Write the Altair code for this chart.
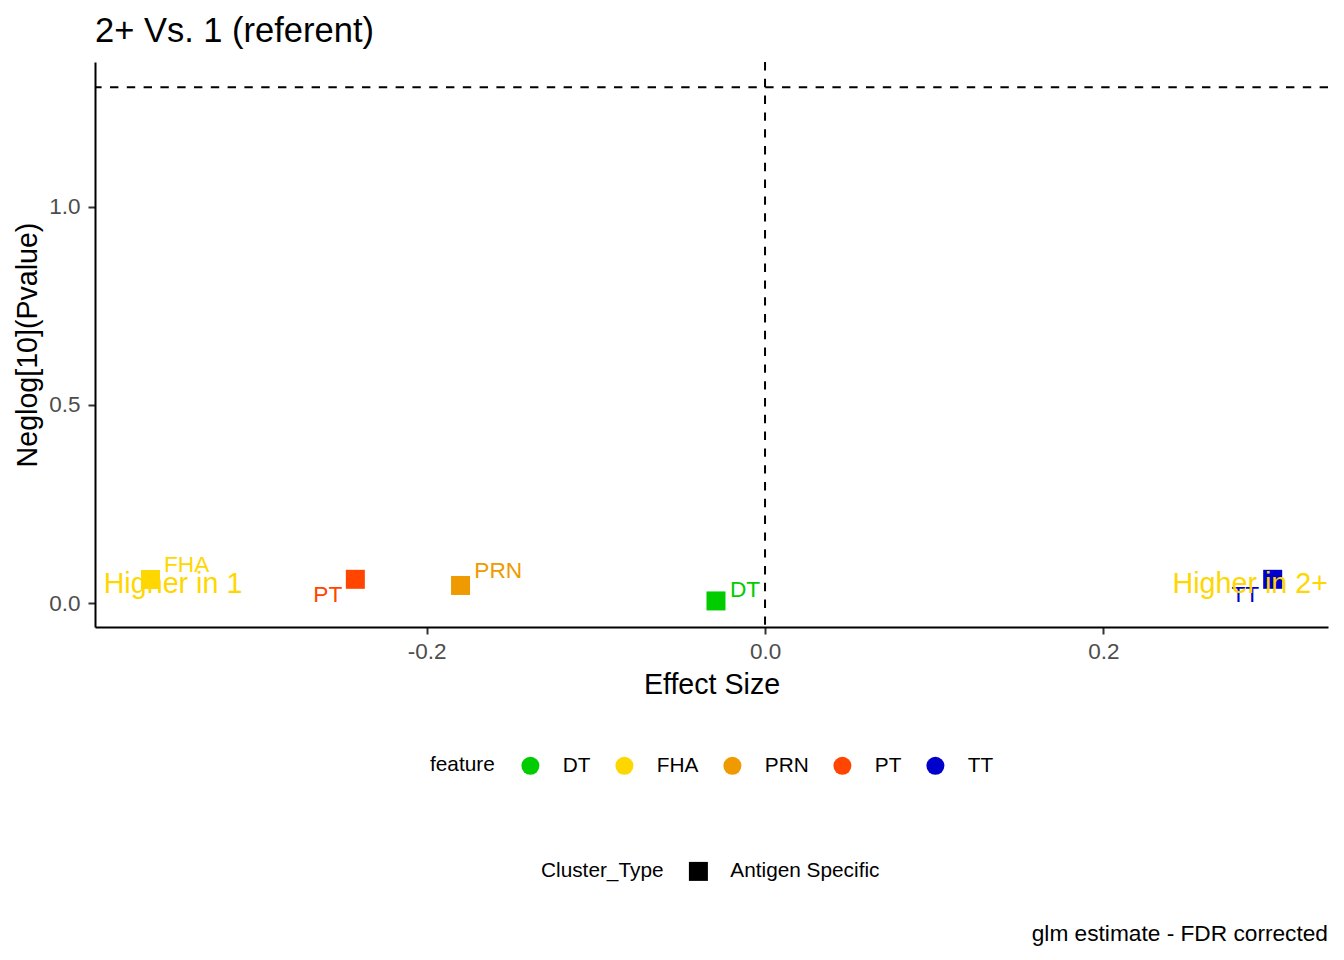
import altair as alt
import pandas as pd

# ---- data ----
features = ["DT", "FHA", "PRN", "PT", "TT"]
effect = [-0.0290, -0.3633, -0.1800, -0.2422, 0.3001]
neglogp = [0.006, 0.060, 0.045, 0.0605, 0.0605]
cluster_type = ["Antigen Specific"] * 5
# repelled label anchor positions (data units)
label_x = [-0.0118, -0.3419, -0.1577, -0.2585, 0.2839]
label_y = [0.0166, 0.0797, 0.0645, 0.004, 0.004]

feature_order = ["DT", "FHA", "PRN", "PT", "TT"]
feature_colors = ["#00CC00", "#FFD700", "#EE9A00", "#FF4500", "#0000CD"]

annot_text = ["Higher in 1", "Higher in 2+"]
annot_x = [-0.3910, 0.3328]
annot_y = [0.0252, 0.0252]

sig_line = [1.30103]
zero_line = [0.0]

x_domain = [-0.3961, 0.3328]
y_domain = [-0.0597, 1.3645]
x_ticks = [-0.2, 0.0, 0.2]
y_ticks = [0.0, 0.5, 1.0]

title_text = "2+ Vs. 1 (referent)"
caption_text = "glm estimate - FDR corrected"

FONT = "Liberation Sans"
W, H = 1233, 565

pts = pd.DataFrame({"feature": features, "effect": effect, "neglogp": neglogp,
                    "Cluster_Type": cluster_type, "lx": label_x, "ly": label_y})
ann_left = pd.DataFrame({"t": [annot_text[0]], "x": [annot_x[0]], "y": [annot_y[0]]})
ann_right = pd.DataFrame({"t": [annot_text[1]], "x": [annot_x[1]], "y": [annot_y[1]]})
hl = pd.DataFrame({"y": sig_line})
vl = pd.DataFrame({"x": zero_line})
cap = pd.DataFrame({"t": [caption_text]})

xscale = alt.Scale(domain=x_domain, nice=False, zero=False)
yscale = alt.Scale(domain=y_domain, nice=False, zero=False)
cscale = alt.Scale(domain=feature_order, range=feature_colors)

xaxis = alt.Axis(values=x_ticks, title="Effect Size",
                 labelExpr="datum.value < 0 ? '-' + format(-datum.value, '.1f') : format(datum.value, '.1f')",
                 titleBaseline="alphabetic", titleY=66, titleX=W / 2)
yaxis = alt.Axis(values=y_ticks, format=".1f", title="Neglog[10](Pvalue)",
                 titleBaseline="alphabetic", titleX=-59, titleY=H / 2, titleAngle=270,
                 titleAlign="center", labelPadding=8)

dash = [8.4, 8.4]
hrule = alt.Chart(hl).mark_rule(color="black", strokeDash=dash, strokeWidth=2).encode(
    y=alt.Y("y:Q", scale=yscale, axis=yaxis))
vrule = alt.Chart(vl).mark_rule(color="black", strokeDash=dash, strokeWidth=2).encode(
    x=alt.X("x:Q", scale=xscale, axis=xaxis))

squares = alt.Chart(pts).mark_point(filled=True, size=361, opacity=1, strokeWidth=0).encode(
    x=alt.X("effect:Q", scale=xscale, axis=xaxis),
    y=alt.Y("neglogp:Q", scale=yscale, axis=yaxis),
    color=alt.Color("feature:N", scale=cscale, legend=alt.Legend(
        title="feature", orient="none", legendX=335, legendY=693, direction="horizontal",
        titleOrient="left", titleAnchor="middle", titleBaseline="middle",
        symbolType="circle", symbolSize=324, symbolStrokeWidth=0, symbolOpacity=1,
        labelFontSize=20.8, titleFontSize=20.8, labelFont=FONT, titleFont=FONT,
        titleFontWeight="normal", labelColor="black", titleColor="black",
        labelOffset=22, columnPadding=23, titlePadding=25, padding=0)),
    shape=alt.Shape("Cluster_Type:N", scale=alt.Scale(range=["square"]), legend=alt.Legend(
        title="Cluster_Type", orient="none", legendX=446, legendY=799, direction="horizontal",
        titleOrient="left", titleAnchor="middle", titleBaseline="middle",
        symbolSize=361, symbolFillColor="black", symbolStrokeWidth=0, symbolOpacity=1,
        labelFontSize=20.8, titleFontSize=20.8, labelFont=FONT, titleFont=FONT,
        titleFontWeight="normal", labelColor="black", titleColor="black",
        labelOffset=21.5, titlePadding=24, padding=0)),
)

labels = alt.Chart(pts).mark_text(font=FONT, fontSize=22.7, align="center",
                                  baseline="alphabetic").encode(
    x=alt.X("lx:Q", scale=xscale, axis=xaxis),
    y=alt.Y("ly:Q", scale=yscale, axis=yaxis),
    text="feature:N",
    color=alt.Color("feature:N", scale=cscale, legend=None),
)

annL = alt.Chart(ann_left).mark_text(font=FONT, fontSize=28.7, align="left",
                                     baseline="alphabetic", color="#FFD700").encode(
    x=alt.X("x:Q", scale=xscale, axis=xaxis), y=alt.Y("y:Q", scale=yscale, axis=yaxis), text="t:N")
annR = alt.Chart(ann_right).mark_text(font=FONT, fontSize=28.7, align="right",
                                      baseline="alphabetic", color="#FFD700").encode(
    x=alt.X("x:Q", scale=xscale, axis=xaxis), y=alt.Y("y:Q", scale=yscale, axis=yaxis), text="t:N")

caption = alt.Chart(cap).mark_text(font=FONT, fontSize=22.7, align="right",
                                   baseline="alphabetic", color="black").encode(
    x=alt.value(W), y=alt.value(879), text="t:N")

chart = alt.layer(hrule, vrule, squares, labels, annL, annR, caption).properties(
    width=W, height=H, background="white",
    title=alt.TitleParams(title_text, anchor="start", frame="group", fontSize=34.5,
                          fontWeight="normal", font=FONT, color="black",
                          baseline="alphabetic", offset=20, dy=35),
    autosize=alt.AutoSizeParams(type="none"),
    padding={"left": 87, "top": 54, "right": 6, "bottom": 320},
).configure_view(strokeOpacity=0).configure_axis(
    grid=False, domainColor="black", domainWidth=2, tickColor="#333333", tickWidth=2,
    tickSize=7, labelColor="#4D4D4D", labelFont=FONT, labelFontSize=22.5, labelPadding=6,
    titleFont=FONT, titleFontSize=28.6, titleFontWeight="normal", titleColor="black",
)

chart.save("out.html", embed_options={"renderer": "svg", "actions": False})
